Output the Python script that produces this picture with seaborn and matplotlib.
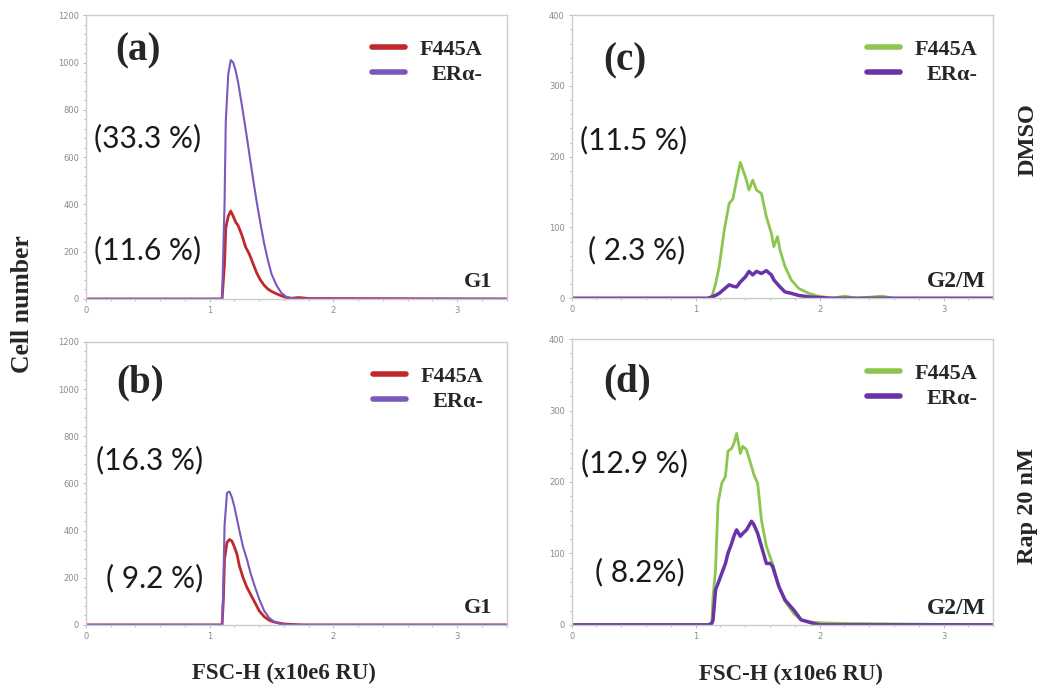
import pandas as pd
import matplotlib.pyplot as plt
import matplotlib.ticker as mticker
import seaborn as sns

# ---- data (FSC-H in x10e6 RU, cell counts) ----
series = ['F445A', 'ERα-']

# (a) G1, DMSO
a_x = [0, 1.10, 1.12, 1.13, 1.15, 1.17, 1.19, 1.21, 1.23, 1.26, 1.29, 1.32, 1.35,
       1.38, 1.41, 1.44, 1.47, 1.50, 1.54, 1.58, 1.62, 1.66, 1.72, 1.80, 3.40]
a_f445a = [0, 0, 150, 300, 350, 372, 350, 325, 310, 270, 220, 190, 150,
           110, 80, 58, 42, 32, 22, 13, 6, 3, 6, 2, 0]
a_era = [0, 0, 400, 750, 950, 1010, 1000, 965, 915, 820, 720, 615, 510,
         410, 320, 235, 165, 105, 58, 25, 9, 3, 0, 0, 0]

# (b) G1, Rap 20 nM
b_x = [0, 1.10, 1.11, 1.12, 1.14, 1.16, 1.18, 1.20, 1.22, 1.24, 1.27, 1.30,
       1.33, 1.36, 1.40, 1.44, 1.48, 1.52, 1.56, 1.60, 1.66, 1.75, 3.40]
b_f445a = [0, 0, 100, 280, 350, 362, 355, 330, 300, 250, 200, 160,
           130, 100, 60, 35, 20, 12, 8, 4, 2, 0, 0]
b_era = [0, 0, 150, 420, 560, 565, 540, 500, 450, 400, 330, 280,
         220, 170, 110, 60, 30, 14, 6, 2, 0, 0, 0]

# (c) G2/M, DMSO
c_x = [0, 1.10, 1.13, 1.16, 1.19, 1.23, 1.27, 1.30, 1.33, 1.36, 1.40, 1.43,
       1.46, 1.49, 1.53, 1.57, 1.61, 1.63, 1.66, 1.68, 1.72, 1.77, 1.83,
       1.91, 1.99, 2.10, 2.20, 2.30, 2.50, 2.60, 3.40]
c_f445a = [0, 0, 2, 20, 45, 96, 134, 140, 167, 192, 172, 153,
           167, 153, 148, 115, 92, 73, 87, 68, 45, 26, 14,
           7, 3, 0, 3, 0, 3, 0, 0]
c_era = [0, 0, 2, 4, 7, 13, 19, 17, 16, 23, 30, 38,
         33, 38, 35, 39, 33, 26, 20, 16, 9, 7, 4,
         2, 1, 0, 0, 0, 0, 0, 0]

# (d) G2/M, Rap 20 nM
d_x = [0, 1.10, 1.13, 1.14, 1.16, 1.18, 1.21, 1.24, 1.26, 1.29, 1.31, 1.33,
       1.36, 1.38, 1.41, 1.45, 1.47, 1.50, 1.53, 1.57, 1.60, 1.62, 1.67,
       1.72, 1.79, 1.85, 1.93, 2.00, 2.20, 3.40]
d_f445a = [0, 0, 2, 40, 77, 170, 198, 208, 243, 247, 255, 268,
           240, 250, 245, 222, 210, 198, 147, 110, 95, 86, 54,
           33, 16, 7, 4, 3, 2, 0]
d_era = [0, 0, 2, 7, 49, 58, 72, 86, 100, 114, 125, 133,
         124, 128, 133, 145, 140, 128, 110, 86, 86, 82, 54,
         35, 21, 7, 3, 0, 0, 0]

pct_labels = {'a': ['(33.3 %)', '(11.6 %)'], 'b': ['(16.3 %)', '( 9.2 %)'],
              'c': ['(11.5 %)', '( 2.3 %)'], 'd': ['(12.9 %)', '( 8.2%)']}
phase = {'a': 'G1', 'b': 'G1', 'c': 'G2/M', 'd': 'G2/M'}

sns.set_style('white')
serif = 'Liberation Serif'
sans = 'Lato'
plt.rcParams['font.family'] = ['DejaVu Sans']

fig = plt.figure(figsize=(10.54, 6.92), dpi=100)

panels = {
    'a': dict(pos=[0.0816, 0.568, 0.399, 0.410], x=a_x, v=[a_f445a, a_era], ymax=1200, ystep=200,
              pal=['#c0282d', '#7b58bd'], lw=[2.0, 1.5], txt=[(0.147, 0.567), (0.147, 0.173)],
              lab=(0.124, 0.875), leg=0.99, xl=0.47),
    'b': dict(pos=[0.0816, 0.097, 0.399, 0.409], x=b_x, v=[b_f445a, b_era], ymax=1200, ystep=200,
              pal=['#c0282d', '#7b58bd'], lw=[2.0, 1.5], txt=[(0.152, 0.583), (0.164, 0.166)],
              lab=(0.128, 0.855), leg=0.992, xl=0.47),
    'c': dict(pos=[0.5424, 0.569, 0.400, 0.409], x=c_x, v=[c_f445a, c_era], ymax=400, ystep=100,
              pal=['#8dc64e', '#6a34a6'], lw=[2.0, 2.5], txt=[(0.146, 0.558), (0.155, 0.17)],
              lab=(0.127, 0.84), leg=1.01, xl=0.52),
    'd': dict(pos=[0.5424, 0.097, 0.400, 0.413], x=d_x, v=[d_f445a, d_era], ymax=400, ystep=100,
              pal=['#8dc64e', '#6a34a6'], lw=[2.0, 2.5], txt=[(0.148, 0.566), (0.162, 0.185)],
              lab=(0.132, 0.85), leg=1.01, xl=0.52),
}

for key, p in panels.items():
    ax = fig.add_axes(p['pos'])
    df = pd.DataFrame({'x': p['x'] * 2,
                       'count': p['v'][0] + p['v'][1],
                       'cells': [series[0]] * len(p['x']) + [series[1]] * len(p['x'])})
    sns.lineplot(data=df, x='x', y='count', hue='cells', hue_order=series,
                 palette=p['pal'], ax=ax, legend=True)
    for ln, w in zip(ax.get_lines(), p['lw']):
        ln.set_linewidth(w)

    ax.set_xlim(0, 3.4)
    ax.set_ylim(0, p['ymax'])
    ax.set_xticks([0, 1, 2, 3])
    ax.set_yticks(range(0, p['ymax'] + 1, p['ystep']))
    ax.xaxis.set_minor_locator(mticker.MultipleLocator(0.2))
    ax.yaxis.set_minor_locator(mticker.MultipleLocator(p['ystep'] / 5))
    ax.tick_params(which='both', direction='out', length=2, width=0.6, color='#b0b0b0',
                   labelsize=6, labelcolor='#8a8a8a', left=True, bottom=True, pad=3)
    ax.tick_params(which='minor', length=1.5)
    for s in ax.spines.values():
        s.set_color('#cccccc')
        s.set_linewidth(1.0)
    ax.set_xlabel('')
    ax.set_ylabel('')

    leg = ax.legend(loc='upper right', bbox_to_anchor=(p['leg'], 0.985), frameon=False,
                    handlelength=1.5, handletextpad=0.65, labelspacing=0.2,
                    prop={'family': serif, 'weight': 'bold', 'size': 16})
    for ln in leg.get_lines():
        ln.set_linewidth(4)
    # right-align the legend labels
    fig.canvas.draw()
    r = fig.canvas.get_renderer()
    widths = [t.get_window_extent(r).width for t in leg.get_texts()]
    for t, w in zip(leg.get_texts(), widths):
        t.set_position((max(widths) - w, 0))

    ax.text(p['lab'][0], p['lab'][1], '(' + key + ')', transform=ax.transAxes, ha='center',
            va='center', family=serif, weight='bold', fontsize=28)
    for (tx, ty), s in zip(p['txt'], pct_labels[key]):
        ax.text(tx, ty, s, transform=ax.transAxes, ha='center', va='center',
                family=sans, fontsize=21.5, color='#1a1a1a')
    g1 = phase[key] == 'G1'
    ax.text(0.966 if g1 else 0.982, 0.058, phase[key], transform=ax.transAxes, ha='right',
            va='center', family=serif, weight='bold', fontsize=16 if g1 else 17)

    if key in ('b', 'd'):
        ax.set_xlabel('FSC-H (x10e6 RU)', family=serif, weight='bold', fontsize=16.5)
        ax.xaxis.set_label_coords(p['xl'], -0.135)

fig.text(0.021, 0.561, 'Cell number', rotation=90, ha='center', va='center',
         family=serif, weight='bold', fontsize=18.5)
fig.text(0.975, 0.798, 'DMSO', rotation=90, ha='center', va='center',
         family=serif, weight='bold', fontsize=17.5)
fig.text(0.975, 0.269, 'Rap 20 nM', rotation=90, ha='center', va='center',
         family=serif, weight='bold', fontsize=17.5)

fig.savefig('out.png', dpi=100, facecolor='white')
